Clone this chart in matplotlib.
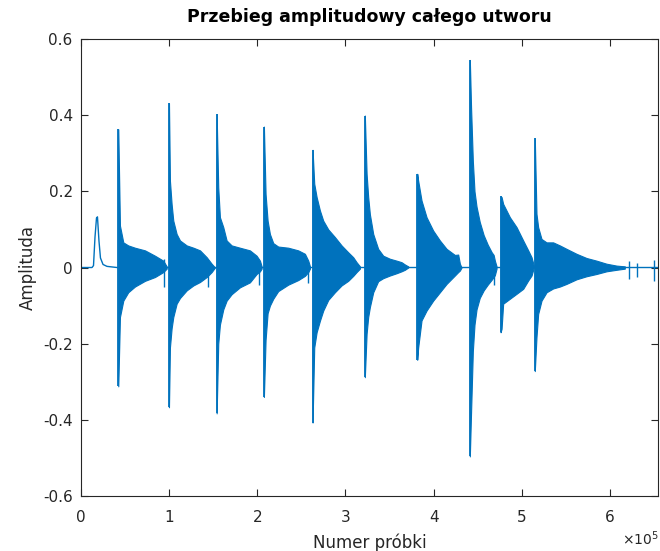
import numpy as np
import matplotlib.pyplot as plt

### Obwiednia przebiegu (numer probki, amplituda)
### -----------------------------------------------------------------
# cisza + poczatkowy "garb"
quiet_x = [0, 12500, 14200, 15900, 17600, 18700, 20400, 22100, 25000, 29500, 40800, 654500]
quiet_y = [0, 0, 0.005, 0.08, 0.13, 0.133, 0.07, 0.025, 0.008, 0.003, 0, 0]

# uderzenia (ataki dzwiekow)
onsets = [42300, 99800, 153900, 207500, 262700, 322000, 381400, 441100, 476000, 514800]
spike_hi = [0.363, 0.431, 0.403, 0.370, 0.309, 0.399, 0.246, 0.545, 0.187, 0.339]
spike_lo = [-0.312, -0.367, -0.383, -0.340, -0.407, -0.288, -0.242, -0.496, -0.170, -0.272]

# obwiednia kazdego dzwieku
env_x = [
    [42300, 44200, 48000, 53600, 61200, 72600, 83900, 93300, 97200],
    [99800, 100900, 102800, 104700, 108500, 112300, 119900, 127500, 135000, 142600, 148200, 152000],
    [153900, 155700, 157600, 161400, 165200, 170900, 180300, 191600, 199200, 203000, 204900],
    [207500, 209400, 211700, 214300, 218100, 223700, 235100, 246400, 254000, 257800, 259700],
    [262700, 264600, 267300, 271000, 274800, 280500, 288000, 295600, 303100, 308800, 312600, 316400],
    [322000, 324000, 325800, 327700, 331500, 337100, 342800, 350400, 358000, 363600, 367400, 371200],
    [381400, 382500, 386300, 392000, 399500, 407100, 414700, 424100, 427900, 429800, 431700],
    [441100, 442500, 444500, 446400, 448700, 452300, 456800, 461400, 465900, 468100, 469500, 471400],
    [476000, 477100, 478900, 486500, 494100, 501600, 507300, 511100, 513700],
    [514800, 516700, 518600, 522400, 528100, 535600, 543200, 550800, 562100, 573400, 584800, 596100, 607500, 616900],
]
env_hi = [
    [0.363, 0.11, 0.066, 0.058, 0.052, 0.045, 0.031, 0.018, 0.003],
    [0.431, 0.228, 0.167, 0.123, 0.088, 0.071, 0.058, 0.052, 0.045, 0.027, 0.010, 0.0],
    [0.403, 0.21, 0.132, 0.106, 0.071, 0.058, 0.052, 0.045, 0.031, 0.018, 0.003],
    [0.370, 0.193, 0.123, 0.088, 0.064, 0.055, 0.052, 0.045, 0.036, 0.018, 0.003],
    [0.309, 0.22, 0.185, 0.15, 0.123, 0.10, 0.08, 0.058, 0.04, 0.027, 0.014, 0.003],
    [0.399, 0.246, 0.185, 0.14, 0.088, 0.049, 0.031, 0.023, 0.018, 0.014, 0.008, 0.003],
    [0.246, 0.228, 0.176, 0.132, 0.097, 0.071, 0.049, 0.033, 0.034, 0.010, 0.0],
    [0.545, 0.42, 0.28, 0.20, 0.16, 0.12, 0.085, 0.06, 0.04, 0.033, 0.018, 0.003],
    [0.187, 0.185, 0.167, 0.132, 0.106, 0.071, 0.045, 0.027, 0.005],
    [0.339, 0.141, 0.106, 0.075, 0.066, 0.066, 0.058, 0.049, 0.036, 0.025, 0.018, 0.010, 0.005, 0.003],
]
env_lo = [
    [-0.312, -0.13, -0.087, -0.065, -0.05, -0.035, -0.025, -0.012, -0.003],
    [-0.367, -0.21, -0.16, -0.13, -0.095, -0.08, -0.06, -0.047, -0.038, -0.025, -0.012, 0.0],
    [-0.383, -0.2, -0.15, -0.11, -0.087, -0.07, -0.052, -0.039, -0.017, -0.01, -0.003],
    [-0.340, -0.19, -0.12, -0.10, -0.082, -0.062, -0.045, -0.033, -0.022, -0.012, -0.003],
    [-0.407, -0.21, -0.17, -0.14, -0.113, -0.085, -0.065, -0.047, -0.035, -0.022, -0.012, -0.003],
    [-0.288, -0.174, -0.13, -0.104, -0.065, -0.036, -0.028, -0.021, -0.015, -0.010, -0.006, 0.0],
    [-0.242, -0.21, -0.139, -0.113, -0.087, -0.065, -0.043, -0.021, -0.012, -0.008, 0.0],
    [-0.496, -0.38, -0.22, -0.15, -0.11, -0.08, -0.06, -0.045, -0.032, -0.025, -0.02, -0.003],
    [-0.170, -0.161, -0.095, -0.082, -0.069, -0.056, -0.034, -0.021, 0.0],
    [-0.272, -0.183, -0.122, -0.087, -0.065, -0.055, -0.050, -0.043, -0.031, -0.023, -0.017, -0.010, -0.006, -0.003],
]

# krotkie trzaski przed kolejnymi uderzeniami i na koncu
blip_x = [94500, 144400, 202200, 257000, 469000, 621800, 630900, 649800]
blip_hi = [0.023, 0.010, 0.010, 0.010, 0.010, 0.018, 0.012, 0.020]
blip_lo = [-0.05, -0.05, -0.047, -0.04, -0.045, -0.03, -0.025, -0.035]

xticks = [0, 1e5, 2e5, 3e5, 4e5, 5e5, 6e5]
xtick_labels = ["0", "1", "2", "3", "4", "5", "6"]
yticks = [-0.6, -0.4, -0.2, 0, 0.2, 0.4, 0.6]
ytick_labels = ["-0.6", "-0.4", "-0.2", "0", "0.2", "0.4", "0.6"]

### Plotstuff
### ---------
blue = "#0072BD"
fig = plt.figure(figsize=(6.6, 5.51), dpi=100)
ax = fig.add_axes([0.1227, 0.0998, 0.8742, 0.8294])

ax.plot(quiet_x, quiet_y, color=blue, lw=1.0)
for x, hi, lo in zip(env_x, env_hi, env_lo):
    ax.fill_between(x, lo, hi, color=blue, lw=0.8, edgecolor=blue)
ax.vlines(onsets, spike_lo, spike_hi, color=blue, lw=1.3)
ax.vlines(blip_x, blip_lo, blip_hi, color=blue, lw=1.0)

ax.set_xlim(0, 654500)
ax.set_ylim(-0.6, 0.6)
ax.set_xticks(xticks)
ax.set_xticklabels(xtick_labels)
ax.set_yticks(yticks)
ax.set_yticklabels(ytick_labels)
ax.tick_params(direction="in", length=5, width=0.8, color="#262626",
               labelsize=11, labelcolor="#262626", top=True, right=True, pad=6)
ax.tick_params(axis="x", pad=10)
for s in ax.spines.values():
    s.set_color("#262626")
    s.set_linewidth(0.8)

ax.set_title("Przebieg amplitudowy całego utworu", fontsize=12.5,
             fontweight="bold", pad=12)
ax.set_xlabel("Numer próbki", fontsize=12, color="#262626", labelpad=6)
ax.set_ylabel("Amplituda", fontsize=12, color="#262626", labelpad=4)
fig.text(0.998, 0.006, r"$\times10^5$", ha="right", va="bottom",
         fontsize=10, color="#262626")

fig.savefig("out.png", dpi=100)
